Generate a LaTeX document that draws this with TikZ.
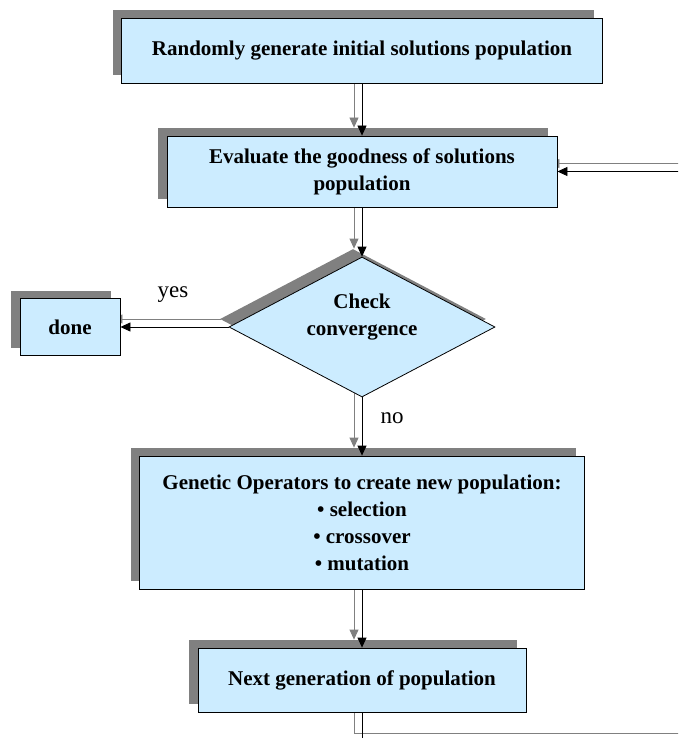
\documentclass[tikz,border=0pt]{standalone}
\usepackage{fontspec}
\setmainfont{Liberation Serif}
\usetikzlibrary{shapes.geometric,shadows,arrows.meta}
\pgfdeclarelayer{bg}
\pgfsetlayers{bg,main}
\definecolor{boxblue}{RGB}{204,236,255}
\definecolor{shadegray}{RGB}{128,128,128}
\begin{document}
\begin{tikzpicture}[x=1pt,y=-1pt,
  block/.style={draw, line width=0.8pt, fill=boxblue, inner sep=0pt, align=center,
    font=\bfseries\fontsize{21}{27}\selectfont,
    drop shadow={shadow xshift=-9pt, shadow yshift=8pt, fill=shadegray, opacity=1}},
  decision/.style={block, diamond, aspect=1.9},
  link/.style={line width=0.8pt, -{Triangle[length=10pt,width=9pt]}},
  word/.style={font=\fontsize{23}{27}\selectfont, inner sep=0pt, anchor=base}]
\useasboundingbox (0,0) rectangle (678,738);

% steps of the loop
\node[block, minimum width=481pt, minimum height=65pt] (init) at (362,50.5) {Randomly generate initial solutions population};
\node[block, minimum width=390pt, minimum height=71pt] (eval) at (362,171.5) {Evaluate the goodness of solutions\\population};
\node[decision, minimum width=266pt, minimum height=140pt, text depth=24pt] (check) at (362,327) {Check\\convergence};
\node[block, minimum width=100pt, minimum height=57pt] (done) at (70,327) {done};
\node[block, minimum width=445pt, minimum height=133pt] (gen) at (362,522.5) {Genetic Operators to create new population:\\\textbullet{} selection\\\textbullet{} crossover\\\textbullet{} mutation};
\node[block, minimum width=328pt, minimum height=64pt] (next) at (362,680) {Next generation of population};
\coordinate (corner) at (692,741);

\node[word] (yes) at (173,297) {yes};
\node[word] (no) at (392,423) {no};

% gray copies of the links
\begin{pgfonlayer}{bg}
\clip (0,0) rectangle (678,738);
\begin{scope}[transform canvas={xshift=-8pt, yshift=8pt}, shadegray]
\path[draw,link] (init.south) -- (eval.north);
\path[draw,link] (eval.south) -- (check.north);
\path[draw,link] (check.west) -- (done.east);
\path[draw,link] (check.south) -- (gen.north);
\path[draw,link] (gen.south) -- (next.north);
\path[draw,link] (next.south) |- (corner) |- (eval.east);
\end{scope}
\end{pgfonlayer}

\begin{scope}
\clip (0,0) rectangle (678,738);
\path[draw,link] (init.south) -- (eval.north);
\path[draw,link] (eval.south) -- (check.north);
\path[draw,link] (check.west) -- (done.east);
\path[draw,link] (check.south) -- (gen.north);
\path[draw,link] (gen.south) -- (next.north);
\path[draw,link] (next.south) |- (corner) |- (eval.east);
\end{scope}
\end{tikzpicture}
\end{document}
